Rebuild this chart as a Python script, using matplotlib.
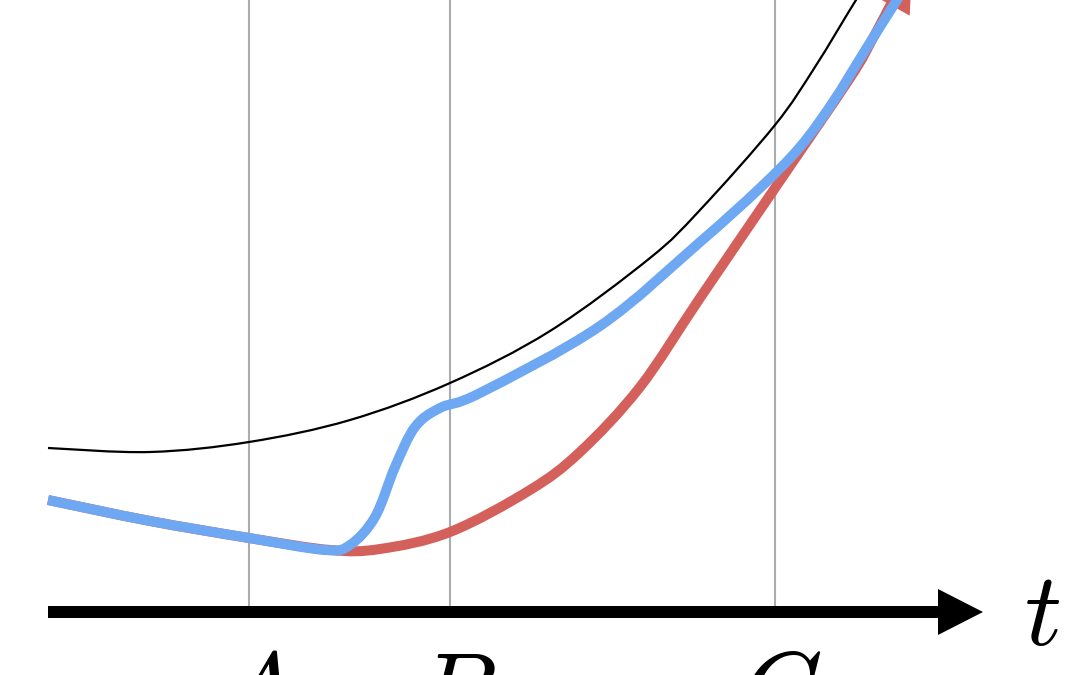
import matplotlib
matplotlib.use("Agg")
import matplotlib.pyplot as plt
from matplotlib.patches import FancyArrow, FancyArrowPatch, PathPatch
from matplotlib.path import Path

plt.rcParams['mathtext.fontset'] = 'cm'

# Marked times on the t axis
tick_labels = ["A", "B", "C"]
tick_t = [249, 450, 775]

# Black reference curve (t, value)
black_t = [48, 150, 249, 350, 450, 550, 650, 700, 775, 815, 856, 875]
black_v = [164, 160, 170, 192, 229, 281, 354, 402, 487, 545, 612, 640]

# Blue curve
blue_t = [48, 150, 249, 325, 350, 375, 395, 415, 440, 480, 600, 700, 760, 800,
          833, 866, 897, 915]
blue_v = [112, 91, 74, 62, 67, 95, 145, 185, 204, 219, 286, 370, 424, 465,
          510, 563, 612, 640]

# Red curve
red_t = [48, 150, 249, 330, 380, 450, 530, 580, 640, 700, 775, 850, 872, 893]
red_v = [112, 91, 74, 62, 63, 80, 122, 160, 225, 314, 424, 534, 572, 612]


def smooth_path(xs, ys):
    """Catmull-Rom spline through the given points, as cubic Bezier segments."""
    pts = list(zip(xs, ys))
    verts = [pts[0]]
    codes = [Path.MOVETO]
    n = len(pts)
    for i in range(n - 1):
        p0 = pts[i - 1] if i > 0 else pts[i]
        p1 = pts[i]
        p2 = pts[i + 1]
        p3 = pts[i + 2] if i + 2 < n else pts[i + 1]
        c1 = (p1[0] + (p2[0] - p0[0]) / 6.0, p1[1] + (p2[1] - p0[1]) / 6.0)
        c2 = (p2[0] - (p3[0] - p1[0]) / 6.0, p2[1] - (p3[1] - p1[1]) / 6.0)
        verts += [c1, c2, p2]
        codes += [Path.CURVE4] * 3
    return Path(verts, codes)


fig = plt.figure(figsize=(10.8, 6.75), dpi=100)
ax = fig.add_axes([0, 0, 1, 1])
ax.set_xlim(0, 1080)
ax.set_ylim(-63, 612)
ax.axis('off')

grey = '#a9adb0'
for t in tick_t:
    ax.plot([t, t], [6, 700], color=grey, lw=1.5, zorder=1, solid_capstyle='butt')

ax.add_patch(PathPatch(smooth_path(black_t, black_v), fill=False,
                       edgecolor='black', lw=1.6, zorder=2))

red = '#d4605b'
blue = '#6ea7f2'
ax.add_patch(PathPatch(smooth_path(red_t, red_v), fill=False, edgecolor=red,
                       lw=7.2, zorder=3, capstyle='butt', joinstyle='round'))
ax.add_patch(FancyArrowPatch((red_t[-1], red_v[-1]), (red_t[-1] + 19, red_v[-1] + 34),
                             arrowstyle='-|>,head_length=1.6,head_width=0.8',
                             mutation_scale=20, color=red, lw=0, zorder=3,
                             shrinkA=0, shrinkB=0))
ax.add_patch(PathPatch(smooth_path(blue_t, blue_v), fill=False, edgecolor=blue,
                       lw=7.2, zorder=4, capstyle='butt', joinstyle='round'))

# t axis arrow
ax.add_patch(FancyArrow(48, 0, 935, 0, width=12, head_width=46, head_length=45,
                        length_includes_head=True, color='black', lw=0, zorder=5))
ax.text(1042, -33, r'$t$', fontsize=74, ha='center', va='baseline', zorder=6)

for t, lab in zip(tick_t, tick_labels):
    ax.text(t + 6, -113, r'$%s$' % lab, fontsize=74, ha='center', va='baseline',
            zorder=6, clip_on=False)

fig.savefig('out.png', dpi=100)
